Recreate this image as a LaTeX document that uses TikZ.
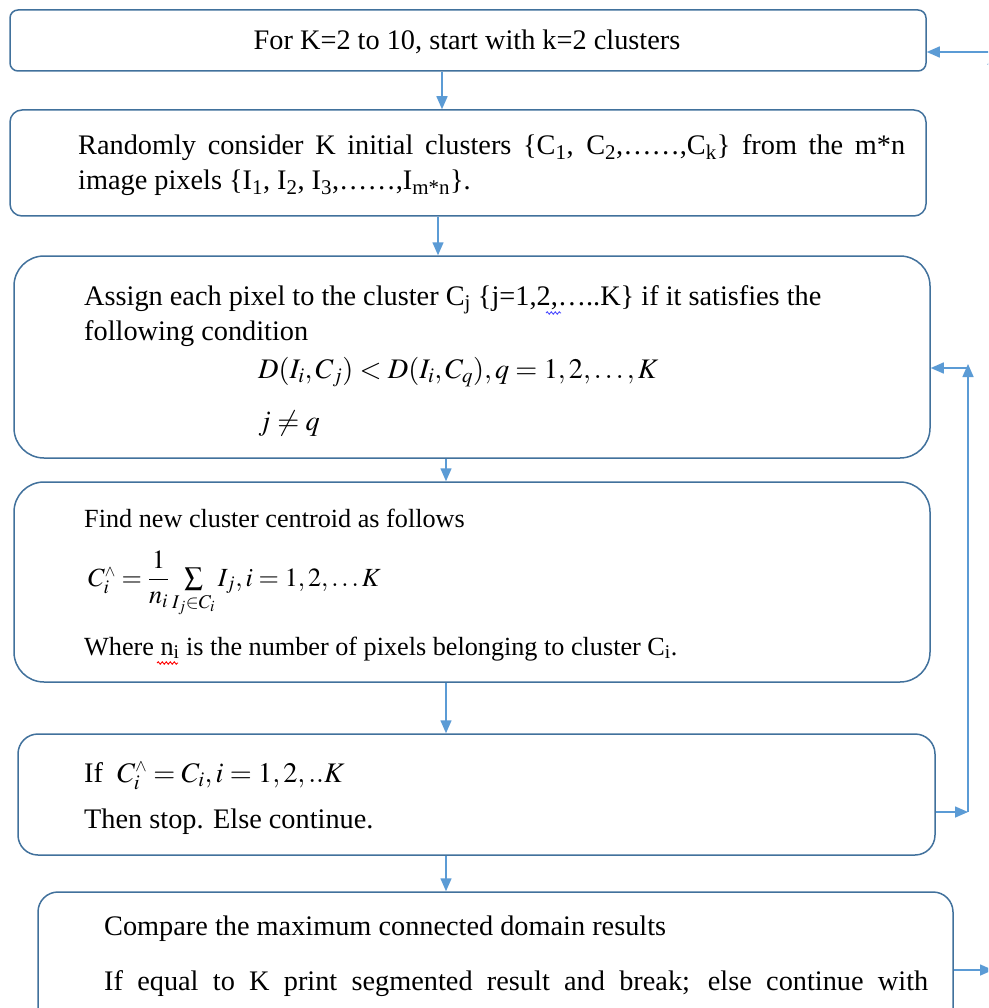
\documentclass[tikz,border=0pt]{standalone}
\usepackage{amsmath}
\usepackage{mathptmx}
\usepackage{fontspec}
\setmainfont{Liberation Serif}
\usetikzlibrary{arrows.meta,decorations.pathmorphing}
\definecolor{boxblue}{RGB}{65,113,156}
\definecolor{arrowblue}{RGB}{91,155,213}
\tikzset{
  stepbox/.style={draw=boxblue, line width=1.5pt, fill=white, rounded corners=#1, inner sep=0pt},
  stepbox/.default=10pt,
  link/.style={draw=arrowblue, line width=1.5pt, -{Triangle[length=13pt,width=11pt]}},
  txt/.style={anchor=base west, inner sep=0pt, font=\fontsize{28.3}{35}\selectfont},
  smalltxt/.style={txt, font=\fontsize{26.2}{32}\selectfont},
  squiggle/.style={line width=0.9pt, decorate, decoration={snake, amplitude=1.2pt, segment length=4pt}}
}
\begin{document}
\begin{tikzpicture}[x=1pt,y=-1pt]
\useasboundingbox (0,0) rectangle (988,1008);
\fill[white] (0,0) rectangle (988,1008);
\clip (0,0) rectangle (988,1008);
% boxes
\node[stepbox=8pt, minimum width=916pt, minimum height=61pt] (b1) at (468,40.5) {};
\node[stepbox=12pt, minimum width=916pt, minimum height=106pt] (b2) at (468,163) {};
\node[stepbox=30pt, minimum width=916pt, minimum height=202pt] (b3) at (472,357) {};
\node[stepbox=30pt, minimum width=916pt, minimum height=200pt] (b4) at (472,582) {};
\node[stepbox=20pt, minimum width=917pt, minimum height=121pt] (b5) at (476.5,794.5) {};
\node[stepbox=20pt, minimum width=915pt, minimum height=150pt] (b6) at (495.5,967) {};
% texts
\node[txt, anchor=base] (t1) at (467,50) {For K=2 to 10, start with k=2 clusters};
\node[txt] (t2a) at (78,155) {\makebox[827pt][s]{Randomly consider K initial clusters \{C\textsubscript{1}, C\textsubscript{2},……,C\textsubscript{k}\} from the m*n}};
\node[txt] (t2b) at (78,190) {image pixels \{I\textsubscript{1}, I\textsubscript{2}, I\textsubscript{3},……,I\textsubscript{m*n}\}.};
\node[txt] (t3a) at (84,305) {Assign each pixel to the cluster C\textsubscript{j} \{j=1,2,…..K\} if it satisfies the};
\node[txt] (t3b) at (84,340) {following condition};
\node[txt] (t3c) at (258,378) {$D(I_i,C_j) < D(I_i,C_q), q=1,2,\ldots,K$};
\node[txt] (t3d) at (258,430) {$j \neq q$};
\node[smalltxt] (t4a) at (84,527) {Find new cluster centroid as follows};
\node[smalltxt] (t4b) at (88,586) {$C_i^{\scriptscriptstyle\wedge} = \dfrac{1}{n_i}\sum\limits_{I_j\in C_i} I_j, i=1,2,\ldots K$};
\node[smalltxt] (t4c) at (84,655) {Where n\textsubscript{i} is the number of pixels belonging to cluster C\textsubscript{i}.};
\node[txt] (t5a) at (84,782) {If\ \ $C_i^{\scriptscriptstyle\wedge} = C_i, i=1,2,..K$};
\node[txt] (t5b) at (84,828) {Then stop. Else continue.};
\node[txt] (t6a) at (104,935) {Compare the maximum connected domain results};
\node[txt] (t6b) at (104,990) {\makebox[824pt][s]{If equal to K print segmented result and break; else continue with}};
% spell-check marks
\draw[squiggle, blue!70] (546,313) -- (561,313);
\draw[squiggle, red] (157,663) -- (178,663);
% down arrows
\draw[link] ([xshift=-26pt]b1.south) -- ([xshift=-26pt]b2.north);
\draw[link] ([xshift=-30pt]b2.south) -- ([xshift=-34pt]b3.north);
\draw[link] ([xshift=-26pt]b3.south) -- ([xshift=-26pt]b4.north);
\draw[link] ([xshift=-26pt]b4.south) -- ([xshift=-30.5pt]b5.north);
\draw[link] ([xshift=-30.5pt]b5.south) -- ([xshift=-49.5pt]b6.north);
% inner loop
\coordinate (loopbot) at (968,812);
\coordinate (looptop) at (968,364);
\coordinate (loopmid) at (968,368);
\draw[link] (b5.east |- loopbot) -- (loopbot);
\draw[link] (loopbot) -- (looptop);
\draw[link] (loopmid) -- (b3.east |- loopmid);
% outer loop
\coordinate (outbot) at (993,970);
\coordinate (outtop) at (993,52);
\draw[link] (b6.east |- outbot) -- (outbot);
\draw[link] (outbot) -- (outtop);
\draw[link] (outtop) -- (b1.east |- outtop);
\end{tikzpicture}
\end{document}
